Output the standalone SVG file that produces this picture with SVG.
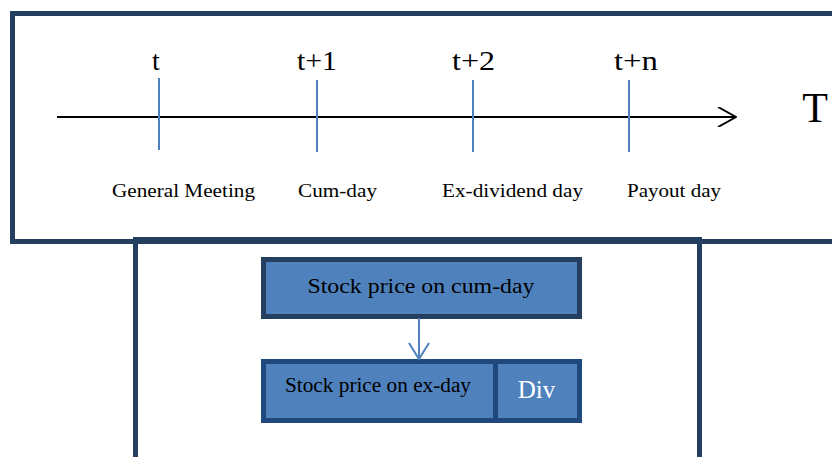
<svg xmlns="http://www.w3.org/2000/svg" width="832" height="457" viewBox="0 0 832 457">
<style>
.frame{fill:none;stroke:#243f60;stroke-width:5}
.tick{stroke:#4f81bd;stroke-width:2}
.t{font-family:"Liberation Serif","Times New Roman","DejaVu Serif",serif;fill:#000}
.top{font-size:28px;text-anchor:middle}
.lab{font-size:19px;text-anchor:middle}
.box1{fill:#4f81bd;stroke:#243f60;stroke-width:5}
.box2{fill:#4f81bd;stroke:#1f497d;stroke-width:5}
</style>
<defs>
<marker id="openArrowBlack" markerWidth="20" markerHeight="20" refX="19" refY="10" orient="auto" markerUnits="userSpaceOnUse">
<path d="M1,0 L19,10 L1,20" fill="none" stroke="#000" stroke-width="2"/>
</marker>
<marker id="openArrowBlue" markerWidth="24" markerHeight="20" refX="12" refY="17" orient="0" markerUnits="userSpaceOnUse">
<path d="M2,1 L12,17 L22,1" fill="none" stroke="#4f81bd" stroke-width="2"/>
</marker>
</defs>
<rect width="832" height="457" fill="#fff"/>
<g id="timeline-frame">
<rect class="frame" x="12.5" y="13.5" width="840" height="228"/>
</g>
<g id="price-frame">
<rect class="frame" x="135.5" y="239.5" width="564" height="240"/>
</g>
<g id="timeline">
<line x1="57" y1="117" x2="736" y2="117" stroke="#000" stroke-width="2" marker-end="url(#openArrowBlack)"/>
<text class="t" x="815" y="122" font-size="42" text-anchor="middle">T</text>
</g>
<g id="tick-t">
<line class="tick" x1="159" y1="78" x2="159" y2="150"/>
<text class="t top" x="156" y="70">t</text>
<text class="t lab" x="183.5" y="197" textLength="143" lengthAdjust="spacingAndGlyphs">General Meeting</text>
</g>
<g id="tick-t1">
<line class="tick" x1="317" y1="80" x2="317" y2="152"/>
<text class="t top" x="317" y="70" textLength="40" lengthAdjust="spacingAndGlyphs">t+1</text>
<text class="t lab" x="337.5" y="197" textLength="79" lengthAdjust="spacingAndGlyphs">Cum-day</text>
</g>
<g id="tick-t2">
<line class="tick" x1="473" y1="80" x2="473" y2="152"/>
<text class="t top" x="473.5" y="70" textLength="43" lengthAdjust="spacingAndGlyphs">t+2</text>
<text class="t lab" x="512.5" y="197" textLength="141" lengthAdjust="spacingAndGlyphs">Ex-dividend day</text>
</g>
<g id="tick-tn">
<line class="tick" x1="629" y1="80" x2="629" y2="152"/>
<text class="t top" x="636" y="70" textLength="44" lengthAdjust="spacingAndGlyphs">t+n</text>
<text class="t lab" x="674" y="197" textLength="94" lengthAdjust="spacingAndGlyphs">Payout day</text>
</g>
<g id="cum-day-price">
<rect class="box1" x="263.5" y="259.5" width="316" height="57"/>
<text class="t" x="421" y="293" font-size="22" text-anchor="middle" textLength="227" lengthAdjust="spacingAndGlyphs">Stock price on cum-day</text>
</g>
<g id="ex-day-price">
<rect class="box2" x="263.5" y="361.5" width="232" height="59"/>
<text class="t" x="378" y="392" font-size="20" text-anchor="middle" textLength="186" lengthAdjust="spacingAndGlyphs">Stock price on ex-day</text>
</g>
<g id="div">
<rect class="box2" x="495.5" y="361.5" width="84" height="59"/>
<text class="t" x="536.5" y="398" font-size="25" text-anchor="middle" style="fill:#fff">Div</text>
</g>
<g id="connectors">
<line x1="419" y1="318" x2="419" y2="359" stroke="#4f81bd" stroke-width="2" marker-end="url(#openArrowBlue)"/>
</g>
</svg>
